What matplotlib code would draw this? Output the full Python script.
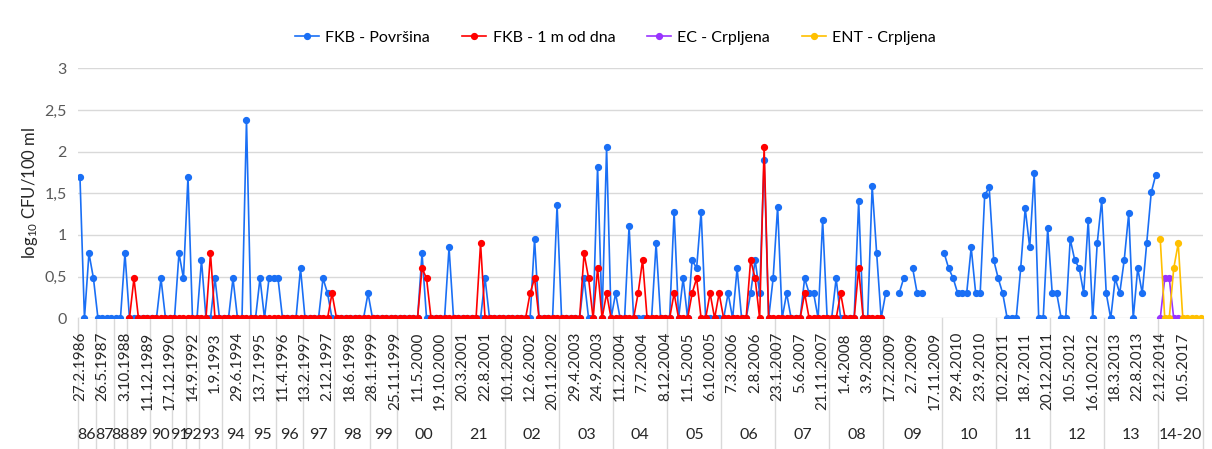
import numpy as np
import matplotlib.pyplot as plt
import matplotlib.transforms as mtransforms

plt.rcParams['font.family'] = ['Lato', 'DejaVu Sans']
plt.rcParams['mathtext.fontset'] = 'custom'
plt.rcParams['mathtext.rm'] = 'Lato'
plt.rcParams['mathtext.default'] = 'regular'

N = 250
nan = np.nan

# datumi uzorkovanja (svaki 5. uzorak ima oznaku)
datumi = ["27.2.1986", "26.5.1987", "3.10.1988", "11.12.1989", "17.12.1990",
          "14.9.1992", "1.9.1993", "29.6.1994", "13.7.1995", "11.4.1996",
          "13.2.1997", "2.12.1997", "18.6.1998", "28.1.1999", "25.11.1999",
          "11.5.2000", "19.10.2000", "20.3.2001", "22.8.2001", "10.1.2002",
          "12.6.2002", "20.11.2002", "29.4.2003", "24.9.2003", "11.2.2004",
          "7.7.2004", "8.12.2004", "11.5.2005", "6.10.2005", "7.3.2006",
          "2.8.2006", "23.1.2007", "5.6.2007", "21.11.2007", "1.4.2008",
          "3.9.2008", "17.2.2009", "2.7.2009", "17.11.2009", "29.4.2010",
          "23.9.2010", "10.2.2011", "18.7.2011", "20.12.2011", "10.5.2012",
          "16.10.2012", "18.3.2013", "22.8.2013", "2.12.2014", "10.5.2017"]

# godine (druga razina osi) i indeks prvog uzorka u godini
godine = ["86", "87", "88", "89", "90", "91", "92", "93", "94", "95", "96", "97",
          "98", "99", "00", "21", "02", "03", "04", "05", "06", "07", "08", "09",
          "10", "11", "12", "13", "14-20"]
granice = [0, 4, 8, 11, 16, 21, 24, 27, 32, 38, 44, 50, 57, 65, 71, 83, 95, 107,
           119, 131, 143, 155, 167, 179, 192, 204, 216, 228, 240, 250]

# FKB - Površina (log10 CFU/100 ml)
fkb_povrsina = [
    1.70, 0, 0.78, 0.48, 0, 0, 0, 0, 0, 0,
    0.78, 0, 0, 0, 0, 0, 0, 0, 0.48, 0,
    0, 0, 0.78, 0.48, 1.70, 0, 0, 0.70, 0, 0,
    0.48, 0, 0, 0, 0.48, 0, 0, 2.38, 0, 0,
    0.48, 0, 0.48, 0.48, 0.48, 0, 0, 0, 0, 0.60,
    0, 0, 0, 0, 0.48, 0.30, 0, 0, 0, 0,
    0, 0, 0, 0, 0.30, 0, 0, 0, 0, 0,
    0, 0, 0, 0, 0, 0, 0.78, 0, 0, 0,
    0, 0, 0.85, 0, 0, 0, 0, 0, 0, 0,
    0.48, 0, 0, 0, 0, 0, 0, 0, 0, 0,
    0, 0.95, 0, 0, 0, 0, 1.36, 0, 0, 0,
    0, 0, 0.48, 0, 0, 1.82, 0, 2.05, 0, 0.30,
    0, 0, 1.11, 0, 0, 0, 0, 0, 0.90, 0,
    0, 0, 1.28, 0, 0.48, 0, 0.70, 0.60, 1.28, 0,
    0, 0, 0, 0, 0.30, 0, 0.60, 0, 0, 0.30,
    0.70, 0.30, 1.90, 0, 0.48, 1.34, 0, 0.30, 0, 0,
    0, 0.48, 0.30, 0.30, 0, 1.18, 0, 0, 0.48, 0,
    0, 0, 0, 1.41, 0, 0, 1.59, 0.78, 0, 0.30,
    nan, nan, 0.30, 0.48, nan, 0.60, 0.30, 0.30, nan, nan,
    nan, nan, 0.78, 0.60, 0.48, 0.30, 0.30, 0.30, 0.85, 0.30,
    0.30, 1.48, 1.57, 0.70, 0.48, 0.30, 0, 0, 0, 0.60,
    1.32, 0.85, 1.74, 0, 0, 1.08, 0.30, 0.30, 0, 0,
    0.95, 0.70, 0.60, 0.30, 1.18, 0, 0.90, 1.42, 0.30, 0,
    0.48, 0.30, 0.70, 1.26, 0, 0.60, 0.30, 0.90, 1.51, 1.72,
    nan, nan, nan, nan, nan, nan, nan, nan, nan, nan,
]

# FKB - 1 m od dna
fkb_dno = [
    nan, nan, nan, nan, nan, nan, nan, nan, nan, nan,
    nan, 0, 0.48, 0, 0, 0, 0, 0, 0, 0,
    0, 0, 0, 0, 0, 0, 0, 0, 0, 0.78,
    0, 0, 0, 0, 0, 0, 0, 0, 0, 0,
    0, 0, 0, 0, 0, 0, 0, 0, 0, 0,
    0, 0, 0, 0, 0, 0, 0.30, 0, 0, 0,
    0, 0, 0, 0, 0, 0, 0, 0, 0, 0,
    0, 0, 0, 0, 0, 0, 0.60, 0.48, 0, 0,
    0, 0, 0, 0, 0, 0, 0, 0, 0, 0.90,
    0, 0, 0, 0, 0, 0, 0, 0, 0, 0,
    0.30, 0.48, 0, 0, 0, 0, 0, 0, 0, 0,
    0, 0, 0.78, 0.48, 0, 0.60, 0, 0.30, 0, 0,
    0, 0, 0, 0, 0.30, 0.70, 0, 0, 0, 0,
    0, 0, 0.30, 0, 0, 0, 0.30, 0.48, 0, 0,
    0.30, 0, 0.30, 0, 0, 0, 0, 0, 0, 0.70,
    0.48, 0, 2.06, 0, 0, 0, 0, 0, 0, 0,
    0, 0.30, 0, 0, 0, 0, 0, 0, 0, 0.30,
    0, 0, 0, 0.60, 0, 0, 0, 0, 0, nan,
] + [nan] * 70

# EC i ENT - Crpljena (2014-2020)
ec_crpljena = [nan] * 240 + [0, 0.48, 0.48, 0, 0, nan, nan, nan, nan, nan]
ent_crpljena = [nan] * 240 + [0.95, 0, 0, 0.60, 0.90, 0, 0, 0, 0, 0]

x = np.arange(N)

fig = plt.figure(figsize=(12.12, 4.49), dpi=100)
ax = fig.add_axes([77.7 / 1212, 1 - 318.3 / 449, 1125.3 / 1212, 250 / 449])

ax.plot(x, np.array(fkb_povrsina, dtype=float), '-o', color='#1a6ff5', lw=1.2,
        ms=4.2, label='FKB - Površina', zorder=3)
ax.plot(x, np.array(fkb_dno, dtype=float), '-o', color='#ff0000', lw=1.2,
        ms=4.2, label='FKB - 1 m od dna', zorder=4)
ax.plot(x, np.array(ec_crpljena, dtype=float), '-o', color='#9933ff', lw=1.2,
        ms=4.2, label='EC - Crpljena', zorder=5)
ax.plot(x, np.array(ent_crpljena, dtype=float), '-o', color='#ffc000', lw=1.2,
        ms=4.2, label='ENT - Crpljena', zorder=6)

ax.set_xlim(-0.5, N - 0.5)
ax.set_ylim(0, 3)
yt = np.arange(0, 3.01, 0.5)
ax.set_yticks(yt)
ax.set_yticklabels([('%g' % v).replace('.', ',') for v in yt],
                   fontsize=11.5, color='#595959')
ax.yaxis.grid(True, color='#d9d9d9', lw=1)
ax.set_axisbelow(True)
for s in ax.spines.values():
    s.set_visible(False)
ax.tick_params(axis='y', length=0, pad=8)

ax.set_xticks(np.arange(0, N, 5))
ax.set_xticklabels([])
ax.tick_params(axis='x', length=0)

ax.set_ylabel('log$_{10}$ CFU/100 ml', fontsize=12, color='#262626', labelpad=3)

# prva razina osi: datumi, okomito ispod osi
trans = mtransforms.blended_transform_factory(ax.transData, ax.transAxes)
for i, d in zip(range(0, N, 5), datumi):
    ax.text(i, -0.055, d, transform=trans, rotation=90, ha='center', va='top',
            fontsize=11, color='#262626')

# druga razina osi: godine i razdjelne linije
for b in granice:
    ax.plot([b - 0.5, b - 0.5], [0, -0.53], transform=trans, color='#d9d9d9',
            lw=1, clip_on=False)
for g, a, b in zip(godine, granice[:-1], granice[1:]):
    ax.text((a + b - 1) / 2, -0.467, g, transform=trans, ha='center',
            va='center', fontsize=11.5, color='#262626')

fig.legend(loc='center', bbox_to_anchor=(0.508, 1 - 38 / 449), ncol=4,
           frameon=False, fontsize=11.5, handlelength=1.5, handletextpad=0.4,
           columnspacing=2.0)

fig.savefig('out.png', dpi=100)
